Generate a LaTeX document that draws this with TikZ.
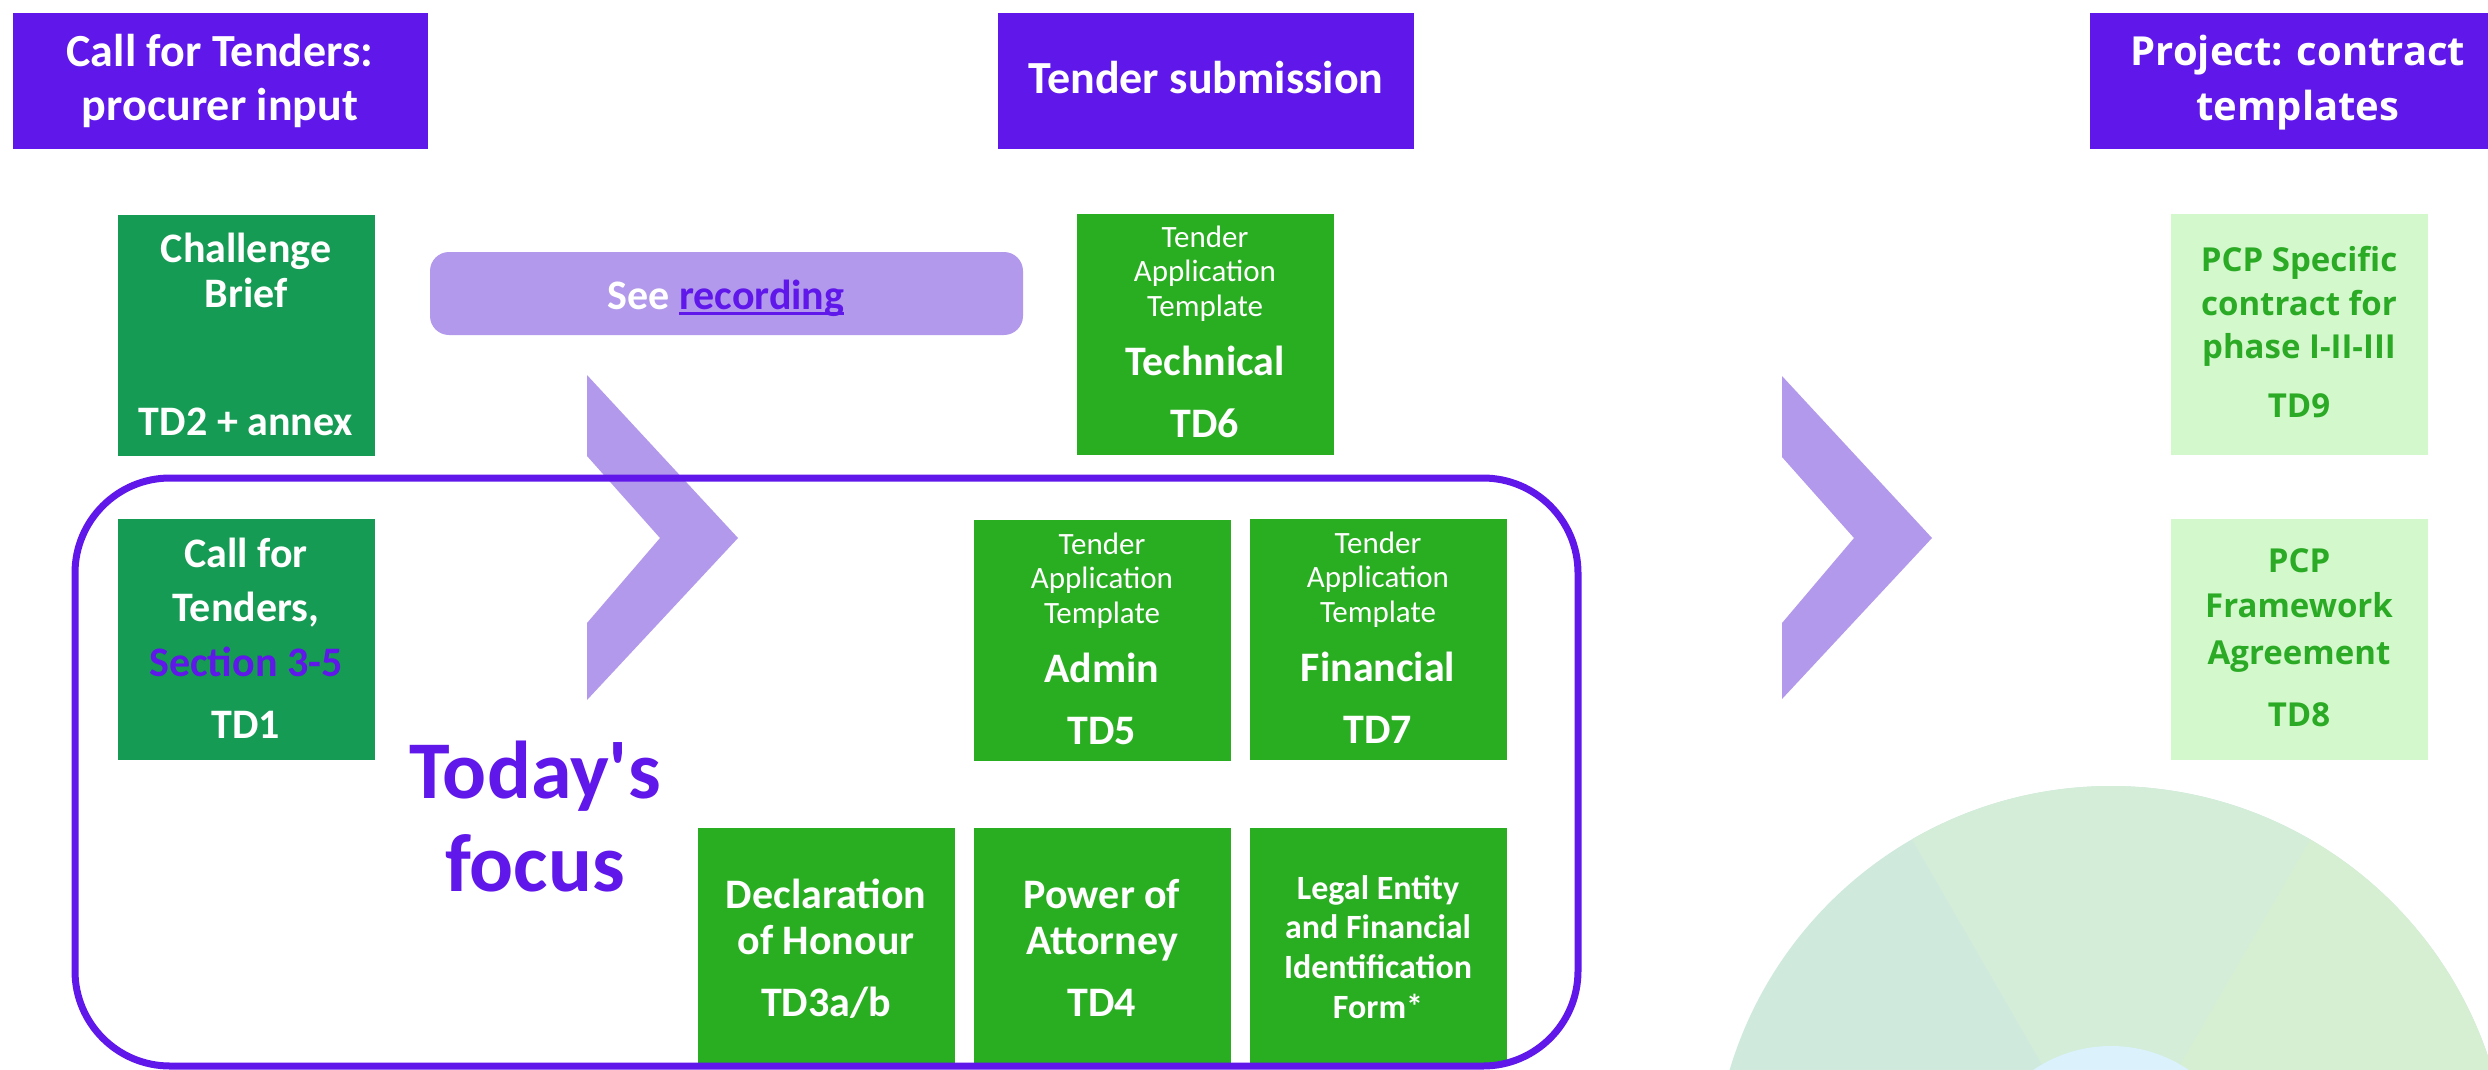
\documentclass[tikz,border=0pt]{standalone}
\usepackage{fontspec}
\setmainfont{Carlito}
\newfontfamily\osans{Open Sans}
\definecolor{hdrc}{HTML}{5F17EA}
\definecolor{chevc}{HTML}{B399EC}
\definecolor{dkg}{HTML}{159B54}
\definecolor{grn}{HTML}{29AE21}
\definecolor{ltg}{HTML}{D3F8CC}
\definecolor{pcptxt}{HTML}{2BAA25}
\definecolor{cleft}{HTML}{D0E9DD}
\definecolor{cmid}{HTML}{D3EDD8}
\definecolor{cright}{HTML}{D6EFD3}
\definecolor{cinner}{HTML}{DBF1FC}
\newcommand\myul[1]{\setbox0\hbox{#1}\rlap{\rule[-5.5pt]{\wd0}{3pt}}\box0}
\begin{document}
\begin{tikzpicture}[x=1pt,y=-1pt,
  hdr/.style={fill=hdrc, inner sep=0pt, minimum height=136pt},
  gbox/.style={inner sep=0pt, minimum width=257pt, minimum height=241pt},
  bbox/.style={gbox, minimum height=236pt},
  bt/.style={inner sep=0pt, text=white, text height=31.5pt, text depth=4.2pt, font=\fontsize{42}{46}\selectfont\bfseries},
  st/.style={inner sep=0pt, text=white, text height=23.2pt, text depth=3.1pt, font=\fontsize{31}{34}\selectfont},
  lt/.style={inner sep=0pt, text=white, text height=25pt, text depth=3.3pt, font=\fontsize{34}{40}\selectfont\bfseries},
  pcpt/.style={inner sep=0pt, text=pcptxt, text height=24.7pt, text depth=3.3pt, font=\osans\fontsize{33}{44}\selectfont\bfseries},
  ht/.style={inner sep=0pt, text=white, text height=34.5pt, text depth=4.6pt, font=\fontsize{46}{54}\selectfont\bfseries},
  ht3/.style={inner sep=0pt, text=white, text height=30pt, text depth=4pt, font=\osans\fontsize{40}{55}\selectfont\bfseries},
  ft/.style={inner sep=0pt, text=hdrc, text height=61.5pt, text depth=8.2pt, font=\fontsize{82}{90}\selectfont\bfseries}]
\useasboundingbox (0,0) rectangle (2488,1069);

% decorative ring
\begin{scope}
\clip (0,0) rectangle (2488,1069);
\fill[cleft] (2111,1184) circle[radius=398];
\fill[cmid] (2111,1184) -- ++(-60:398) arc[start angle=-60,end angle=-120,radius=398] -- cycle;
\fill[cright] (2111,1184) -- ++(0:398) arc[start angle=0,end angle=-60,radius=398] -- cycle;
\fill[cinner] (2111,1184) circle[radius=138];
\end{scope}

% headers
\node[hdr, minimum width=415pt] (h1) at (220.5,81) {};
\node[hdr, minimum width=416pt] (h2) at (1206,81) {};
\node[hdr, minimum width=398pt] (h3) at (2289,81) {};
\node[ht] (h1a) at (220,52) {Call for Tenders:};
\node[ht] (h1b) at (220,106) {procurer input};
\node[ht] (h2a) at (1206,79) {Tender submission};
\node[ht3] (h3a) at (2298,52) {Project: contract};
\node[ht3] (h3b) at (2298,107) {templates};

% see recording
\node[fill=chevc, rounded corners=19pt, minimum width=593pt, minimum height=83pt, inner sep=0pt] (rec) at (726.5,293.5) {};
\node[bt] (rect) at (726,296) {See \textcolor{hdrc}{\myul{recording}}};

% chevrons
\fill[chevc] (587,375) -- (738,538) -- (587,700) -- (587,623) -- (660,538) -- (587,456) -- cycle;
\fill[chevc] (1782,376) -- (1932,538) -- (1782,699) -- (1782,623) -- (1854,538) -- (1782,457) -- cycle;

% boxes
\node[gbox, fill=dkg] (cb) at (246.5,335) {};
\node[gbox, fill=dkg] (td1) at (246.5,639.5) {};
\node[gbox, fill=grn] (td6) at (1205.5,334.5) {};
\node[gbox, fill=grn] (td5) at (1102.5,640) {};
\node[gbox, fill=grn] (td7) at (1378.5,639.5) {};
\node[bbox, fill=grn] (td3) at (826.5,946) {};
\node[bbox, fill=grn] (td4) at (1102.5,946) {};
\node[bbox, fill=grn] (le) at (1378.5,946) {};
\node[gbox, fill=ltg] (td9) at (2299,334.5) {};
\node[gbox, fill=ltg] (td8) at (2299,639.5) {};

% focus frame
\node[draw=hdrc, line width=7pt, rounded corners=95pt, minimum width=1503pt, minimum height=588pt, inner sep=0pt] (frame) at (826.5,772) {};

% texts
\node[bt] (cb1) at (246,249) {Challenge};
\node[bt] (cb2) at (246,294) {Brief};
\node[bt] (cb3) at (246,422) {TD2 + annex};

\node[bt] (td1a) at (246,554) {Call for};
\node[bt] (td1b) at (246,608) {Tenders,};
\node[bt, text=hdrc] (td1c) at (246,663) {Section 3-5};
\node[bt] (td1d) at (246,725) {TD1};

\node[st] (td6a) at (1205,237) {Tender};
\node[st] (td6b) at (1205,271) {Application};
\node[st] (td6c) at (1205,306) {Template};
\node[bt] (td6d) at (1205,362) {Technical};
\node[bt] (td6e) at (1205,424) {TD6};

\node[st] (td5a) at (1102,544) {Tender};
\node[st] (td5b) at (1102,578) {Application};
\node[st] (td5c) at (1102,613) {Template};
\node[bt] (td5d) at (1102,669) {Admin};
\node[bt] (td5e) at (1102,731) {TD5};

\node[st] (td7a) at (1378,543) {Tender};
\node[st] (td7b) at (1378,577) {Application};
\node[st] (td7c) at (1378,612) {Template};
\node[bt] (td7d) at (1378,668) {Financial};
\node[bt] (td7e) at (1378,730) {TD7};

\node[bt] (td3a) at (826,895) {Declaration};
\node[bt] (td3b) at (826,941) {of Honour};
\node[bt] (td3c) at (826,1003) {TD3a/b};

\node[bt] (td4a) at (1102,895) {Power of};
\node[bt] (td4b) at (1102,941) {Attorney};
\node[bt] (td4c) at (1102,1003) {TD4};

\node[lt] (le1) at (1378,889) {Legal Entity};
\node[lt] (le2) at (1378,928) {and Financial};
\node[lt] (le3) at (1378,968) {Identification};
\node[lt] (le4) at (1378,1008) {Form*};

\node[pcpt] (td9a) at (2299,261) {PCP Specific};
\node[pcpt] (td9b) at (2299,305) {contract for};
\node[pcpt] (td9c) at (2299,348) {phase I-II-III};
\node[pcpt] (td9d) at (2299,407) {TD9};

\node[pcpt] (td8a) at (2299,562) {PCP};
\node[pcpt] (td8b) at (2299,607) {Framework};
\node[pcpt] (td8c) at (2299,654) {Agreement};
\node[pcpt] (td8d) at (2299,716) {TD8};

\node[ft] (fa) at (535,772) {Today\textquotesingle s};
\node[ft] (fb) at (535,865) {focus};
\end{tikzpicture}
\end{document}
